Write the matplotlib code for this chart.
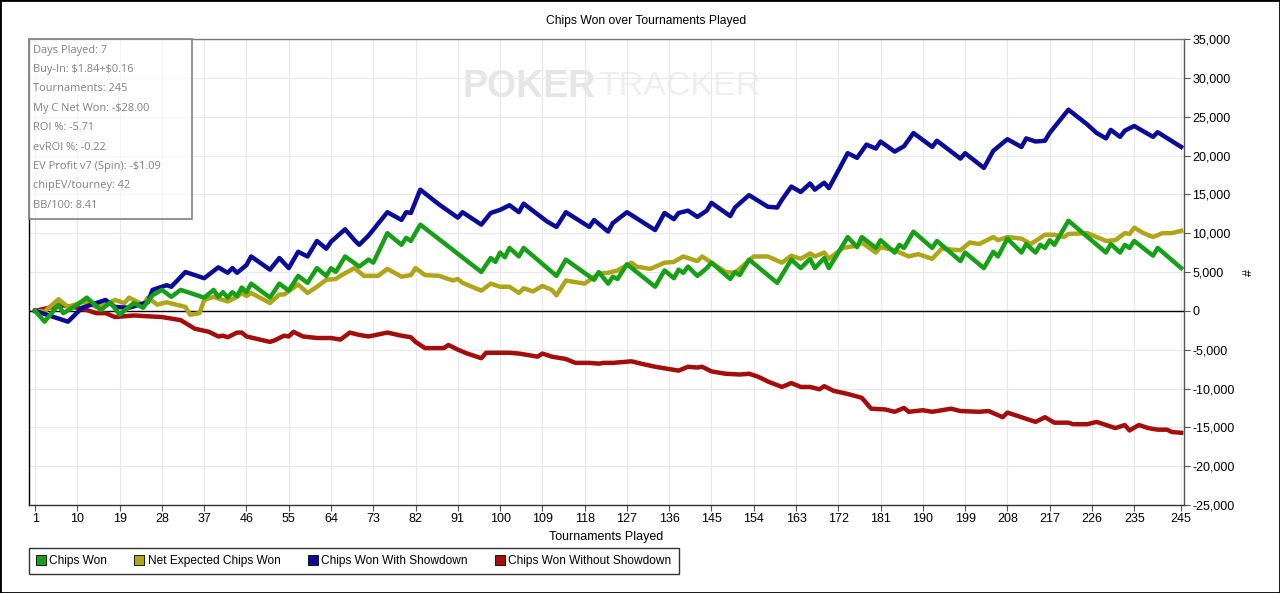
import numpy as np
import matplotlib
matplotlib.use("Agg")
import matplotlib.pyplot as plt
from matplotlib.lines import Line2D
from matplotlib.patches import Rectangle

plt.rcParams['font.family'] = ['Liberation Sans', 'DejaVu Sans']

# data (tournament number, chips)
green_t = [1, 3, 6, 7, 10, 12, 15, 17, 19, 22, 24, 26, 28, 30, 32, 37, 39, 40, 41, 42,
           43, 44, 45, 46, 47, 51, 53, 55, 57, 59, 61, 63, 64, 65, 67, 70, 72, 73, 76, 79,
           80, 81, 83, 96, 98, 99, 100, 101, 102, 104, 105, 112, 114, 120, 121, 123, 124, 125, 127, 133,
           135, 137, 138, 139, 140, 142, 144, 145, 149, 150, 151, 153, 159, 162, 164, 166, 167, 169, 170, 174,
           176, 177, 180, 181, 184, 185, 186, 188, 192, 193, 198, 199, 203, 205, 206, 208, 211, 212, 214, 215,
           216, 217, 218, 221, 229, 230, 232, 233, 234, 235, 239, 240, 245]
green_v = [0, -1400, 800, -300, 800, 1700, 100, 1100, -500, 1000, 400, 2000, 2700, 1800, 2700, 1700, 2700, 1800, 2400, 1700,
           2400, 1900, 3000, 2400, 3500, 1700, 3500, 2600, 4500, 3600, 5500, 4500, 5500, 5000, 7000, 5700, 6600, 6200, 10000, 8500,
           9400, 9000, 11100, 5000, 6800, 6300, 7500, 6900, 8100, 7000, 8100, 4500, 6600, 4000, 5000, 3500, 4400, 4100, 6000, 3100,
           5200, 4200, 5300, 4900, 5700, 4500, 5500, 6200, 4100, 5000, 4600, 6600, 3600, 6600, 5500, 6700, 5500, 6800, 5500, 9500,
           8200, 9500, 8100, 9100, 7500, 8500, 8100, 10200, 8100, 9000, 6400, 7500, 5500, 7600, 7000, 9300, 7500, 8600, 7500, 8500,
           8100, 9100, 8500, 11600, 7500, 8600, 7500, 8500, 8100, 9000, 7100, 8100, 5500]

olive_t = [1, 3, 6, 8, 11, 12, 14, 16, 18, 20, 21, 24, 25, 27, 29, 33, 34, 36, 37, 39,
           41, 42, 44, 45, 46, 47, 51, 53, 54, 57, 59, 61, 63, 65, 66, 69, 71, 74, 76, 79,
           81, 82, 84, 87, 90, 91, 92, 96, 98, 100, 102, 104, 105, 107, 109, 111, 112, 114, 118, 121,
           123, 125, 128, 129, 132, 135, 137, 139, 142, 143, 145, 148, 150, 154, 157, 160, 162, 164, 166, 167,
           169, 170, 173, 176, 177, 180, 181, 184, 187, 189, 192, 194, 198, 200, 202, 205, 206, 208, 211, 213,
           216, 218, 220, 221, 225, 229, 231, 233, 234, 235, 237, 239, 241, 243, 245]
olive_v = [0, -100, 1500, 500, 1100, 1100, 500, 800, 1400, 1000, 1700, 800, 1700, 800, 1100, 500, -500, -300, 1400, 1800,
           1400, 1200, 1800, 2300, 1900, 2300, 1000, 2100, 2100, 3400, 2300, 3100, 4000, 4100, 4500, 5500, 4500, 4500, 5400, 4400,
           4600, 5500, 4600, 4500, 3900, 4100, 3600, 2600, 3500, 3100, 3100, 2300, 2900, 2500, 3200, 2700, 2000, 3900, 3500, 4800,
           4900, 5200, 6200, 5700, 5400, 6200, 6300, 7000, 6400, 7000, 6200, 5000, 4900, 7000, 7000, 6200, 7100, 6700, 7400, 7000,
           7500, 6700, 8100, 8400, 8800, 7500, 8200, 7800, 7000, 7300, 6700, 8000, 7800, 8800, 8600, 9500, 9100, 9500, 9300, 8600,
           9800, 9800, 9500, 9900, 10000, 9000, 9100, 10000, 9900, 10700, 10000, 9500, 10000, 10000, 10300]

blue_t = [1, 8, 11, 16, 18, 21, 25, 26, 29, 30, 33, 37, 40, 42, 43, 44, 46, 47, 51, 53,
          55, 57, 59, 61, 63, 64, 67, 69, 70, 72, 76, 79, 80, 81, 83, 87, 91, 92, 96, 98,
          100, 102, 104, 105, 110, 112, 114, 119, 120, 123, 124, 127, 133, 135, 137, 138, 140, 142, 144, 145,
          149, 150, 153, 157, 159, 160, 162, 164, 166, 167, 169, 170, 174, 176, 178, 180, 181, 184, 186, 188,
          192, 193, 198, 199, 203, 205, 208, 211, 212, 214, 216, 217, 221, 225, 227, 229, 230, 232, 233, 235,
          239, 240, 245]
blue_v = [0, -1400, 400, 1400, 500, 400, 1100, 2700, 3300, 3100, 5000, 4200, 5600, 4900, 5500, 4900, 5900, 7000, 5300, 6800,
          5500, 7600, 7000, 9000, 8000, 8900, 10500, 9100, 8500, 9700, 12700, 11700, 12700, 12600, 15600, 13700, 12000, 12700, 11100, 12600,
          13000, 13600, 12700, 13800, 11500, 10800, 12700, 10800, 11700, 10200, 11300, 12700, 10400, 12600, 11800, 12600, 12900, 12100, 12900, 13900,
          12200, 13300, 14900, 13400, 13300, 14300, 16000, 15300, 16400, 15600, 16500, 15800, 20300, 19700, 21400, 20900, 21800, 20500, 21200, 22900,
          21100, 21900, 19600, 20300, 18400, 20600, 22100, 21100, 22200, 21800, 21900, 22900, 25900, 24000, 22900, 22200, 23300, 22400, 23200, 23800,
          22400, 23000, 21100]

red_t = [1, 4, 7, 10, 12, 14, 16, 18, 22, 25, 28, 32, 35, 38, 40, 41, 42, 44, 45, 46,
         51, 52, 54, 55, 56, 58, 61, 64, 66, 68, 70, 72, 76, 79, 81, 82, 84, 88, 89, 91,
         93, 96, 97, 100, 102, 104, 106, 108, 109, 111, 114, 116, 119, 121, 122, 124, 128, 130, 133, 138,
         140, 142, 143, 145, 148, 151, 153, 155, 157, 160, 162, 164, 166, 168, 169, 171, 174, 177, 178, 179,
         182, 184, 186, 187, 190, 192, 194, 196, 198, 202, 204, 207, 208, 211, 214, 216, 218, 221, 222, 225,
         227, 229, 231, 233, 234, 236, 238, 240, 242, 243, 245]
red_v = [0, 400, 700, 400, 100, -300, -300, -800, -600, -700, -800, -1200, -2300, -2700, -3300, -3200, -3400, -2800, -2800, -3300,
         -4000, -3800, -3200, -3300, -2700, -3300, -3500, -3500, -3700, -2800, -3100, -3300, -2800, -3200, -3400, -4000, -4800, -4800, -4400, -5000,
         -5500, -6100, -5400, -5400, -5400, -5500, -5700, -5900, -5500, -5900, -6200, -6700, -6700, -6800, -6700, -6700, -6500, -6800, -7200, -7700,
         -7200, -7300, -7200, -7800, -8100, -8200, -8100, -8500, -9100, -9800, -9300, -9800, -9800, -10100, -9700, -10300, -10700, -11200, -11900, -12600,
         -12700, -13000, -12500, -13000, -12800, -13000, -12800, -12600, -12900, -13000, -12900, -13700, -13100, -13700, -14300, -13700, -14400, -14400, -14600, -14600,
         -14300, -14700, -15100, -14700, -15400, -14700, -15100, -15300, -15300, -15600, -15700]

x_ticks = list(range(1, 236, 9)) + [245]
y_ticks = list(range(-25000, 35001, 5000))

labels = ["Chips Won", "Net Expected Chips Won", "Chips Won With Showdown", "Chips Won Without Showdown"]
colors = ["#17a017", "#aea51a", "#0b0b98", "#a50c0c"]

info_lines = ["Days Played: 7", "Buy-In: \\$1.84+\\$0.16", "Tournaments: 245", "My C Net Won: -\\$28.00",
              "ROI %: -5.71", "evROI %: -0.22", "EV Profit v7 (Spin): -\\$1.09", "chipEV/tourney: 42", "BB/100: 8.41"]

W, H = 1280, 593
fig = plt.figure(figsize=(W / 100, H / 100), dpi=100)
ax = fig.add_axes([29 / W, 1 - 505 / H, (1184 - 29) / W, (505 - 39) / H])

lw = 3.2
ax.plot(red_t, red_v, color=colors[3], lw=lw, zorder=3)
ax.plot(olive_t, olive_v, color=colors[1], lw=lw, zorder=3)
ax.plot(blue_t, blue_v, color=colors[2], lw=lw, zorder=4)
ax.plot(green_t, green_v, color=colors[0], lw=lw, zorder=5)
ax.axhline(0, color='black', lw=1, zorder=2)

ax.set_xlim(-0.3, 245.6)
ax.set_ylim(-25000, 35000)
ax.set_xticks(x_ticks)
ax.set_yticks(y_ticks)
ax.set_yticklabels([f"{v:,}" for v in y_ticks])
ax.yaxis.tick_right()
ax.yaxis.set_label_position('right')
ax.tick_params(axis='both', labelsize=9, length=4, width=0.8, color='#555555', pad=2)
ax.grid(True, color='#e8e8e8', lw=0.8)
ax.set_axisbelow(True)

ax.spines['left'].set_color('black')
ax.spines['bottom'].set_color('#333333')
ax.spines['top'].set_color('#777777')
ax.spines['right'].set_color('#555555')
for s in ax.spines.values():
    s.set_linewidth(1)

ax.set_xlabel("Tournaments Played", fontsize=9, labelpad=4)
ax.set_ylabel("#", fontsize=9, labelpad=6)

fig.text(0.505, 1 - 21 / H, "Chips Won over Tournaments Played", ha='center', va='center', fontsize=8.7)

# watermark, behind the grid
ax.text(0.491, 0.897, "POKER", transform=ax.transAxes, ha='right', va='center', fontsize=27,
        fontweight='bold', color='#e6e6e6', zorder=0.1)
ax.text(0.493, 0.897, "TRACKER", transform=ax.transAxes, ha='left', va='center', fontsize=24.5,
        color='#efefef', zorder=0.1)

# info box
fig.add_artist(Rectangle((29 / W, 1 - 219 / H), (192 - 29) / W, (219 - 39) / H,
                         transform=fig.transFigure, facecolor='white', alpha=0.6,
                         edgecolor='none', zorder=5))
fig.add_artist(Rectangle((29 / W, 1 - 219 / H), (192 - 29) / W, (219 - 39) / H,
                         transform=fig.transFigure, fill=False, edgecolor='#808080',
                         lw=1.2, zorder=6))
for i, line in enumerate(info_lines):
    fig.text(33 / W, 1 - (50 + i * 19.4) / H, line, ha='left', va='center', fontsize=7.9,
             color='#808080', family='Open Sans', zorder=7)

# legend
handles = [Line2D([], [], marker='s', linestyle='none', markerfacecolor=c,
                  markeredgecolor='black', markeredgewidth=0.6, markersize=7) for c in colors]
fig.legend(handles, labels, loc='upper left', bbox_to_anchor=(29 / W, 1 - 548 / H), ncol=4,
           frameon=True, fancybox=False, edgecolor='black', fontsize=8.6, handlelength=0.8,
           handletextpad=0.3, columnspacing=2.3, borderpad=0.6, borderaxespad=0)

# outer border
fig.add_artist(Rectangle((0, 0), 1, 1, transform=fig.transFigure, fill=False,
                         edgecolor='black', lw=2, zorder=10))

fig.savefig("out.png", dpi=100)
